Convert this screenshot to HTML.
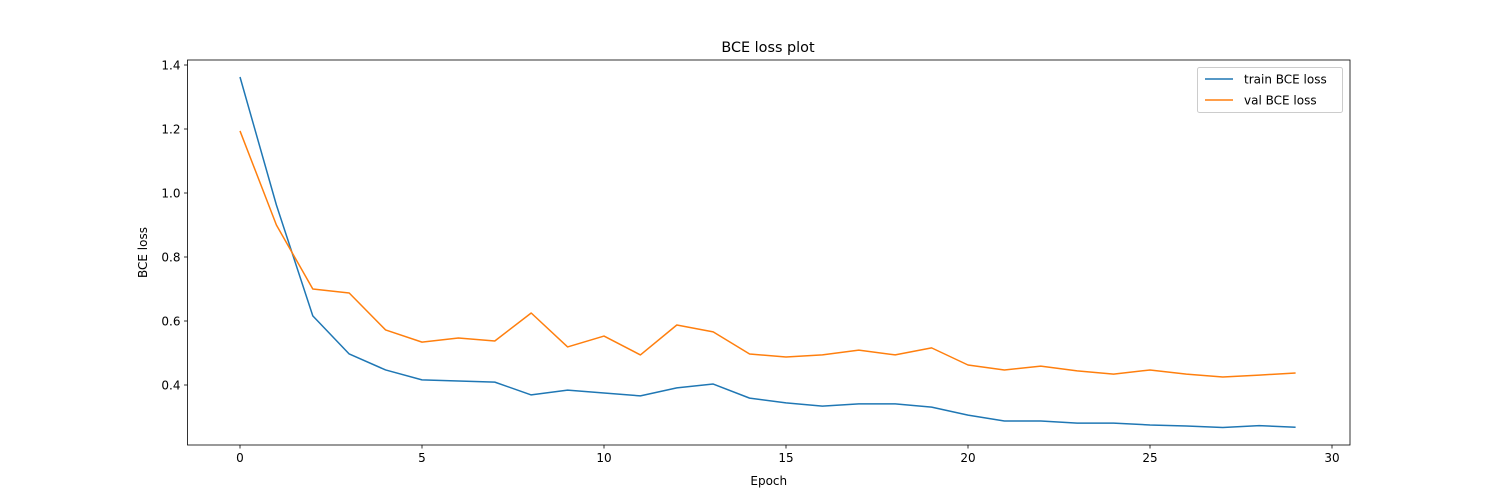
<!DOCTYPE html>
<html><head><meta charset="utf-8"><style>
body{margin:0;background:#fff;}
svg{display:block;font-family:"DejaVu Sans","Liberation Sans",sans-serif;}
</style></head><body>
<svg id="chart" width="1500" height="500">
<rect width="1500" height="500" fill="#fff"/>
<text x="768" y="52" font-size="14.4" text-anchor="middle">BCE loss plot</text>
<g id="plot"></g>
<text x="768.75" y="485" font-size="12" text-anchor="middle">Epoch</text>
<text transform="translate(147,252.5) rotate(-90)" font-size="12" text-anchor="middle">BCE loss</text>
</svg>
<script>
const epochs=[0,1,2,3,4,5,6,7,8,9,10,11,12,13,14,15,16,17,18,19,20,21,22,23,24,25,26,27,28,29];
const trainLoss=[1.3625,0.9625,0.616,0.497,0.447,0.416,0.4125,0.409,0.369,0.384,0.375,0.366,0.391,0.403,0.359,0.344,0.334,0.341,0.341,0.331,0.306,0.2875,0.2875,0.281,0.281,0.275,0.272,0.267,0.273,0.268];
const valLoss=[1.194,0.9,0.7,0.6875,0.572,0.534,0.547,0.5375,0.625,0.519,0.553,0.494,0.5875,0.566,0.497,0.4875,0.494,0.509,0.494,0.516,0.4625,0.447,0.459,0.444,0.434,0.447,0.434,0.425,0.431,0.4375];
const xTicks=[0,5,10,15,20,25,30];
const yTicks=[0.4,0.6,0.8,1.0,1.2,1.4];
const yTickLabels=["0.4","0.6","0.8","1.0","1.2","1.4"];
const L=187.5,R=1350,T=60,B=445;
const xs=v=>240+(v)*36.4;
const ys=v=>65+(1.4-v)*320;
const NS="http://www.w3.org/2000/svg";
const g=document.getElementById('plot');
function mk(t,a){const e=document.createElementNS(NS,t);for(const k in a)e.setAttribute(k,a[k]);g.appendChild(e);return e;}
xTicks.forEach(t=>{
 const l=mk('line',{x1:xs(t),x2:xs(t),y1:B,y2:B+3.5,stroke:'#000','stroke-width':0.8});
 
 
 const tx=mk('text',{x:xs(t),y:B+17,'font-size':12,'text-anchor':'middle'});tx.textContent=t;
 
 
});
yTicks.forEach((t,i)=>{
 const l=mk('line',{x1:L-3.5,x2:L,y1:ys(t),y2:ys(t),stroke:'#000','stroke-width':0.8});
 
 
 const tx=mk('text',{x:L-7,y:ys(t)+4.5,'font-size':12,'text-anchor':'end'});tx.textContent=yTickLabels[i];
 
 
});
function series(vals,color,name){
 const p=mk('polyline',{points:vals.map((v,i)=>xs(epochs[i])+','+ys(v)).join(' '),fill:'none',stroke:color,'stroke-width':1.5,'stroke-linejoin':'round'});
 
 
}
series(trainLoss,'#1f77b4','train-loss-line');
series(valLoss,'#ff7f0e','val-loss-line');
const fr=mk('rect',{x:L,y:T,width:R-L,height:B-T,fill:'none',stroke:'#000','stroke-width':0.8});


const lg=mk('rect',{x:1197.5,y:67.5,width:145,height:45,fill:'#fff',stroke:'#ccc','stroke-width':1,rx:2});


[['train BCE loss','#1f77b4',79],['val BCE loss','#ff7f0e',100]].forEach(([n,c,y])=>{
 const l=mk('line',{x1:1205,x2:1233,y1:y,y2:y,stroke:c,'stroke-width':1.5});
 
 
 const t=mk('text',{x:1244,y:y+4.5,'font-size':12});t.textContent=n;
 
 
});
</script>
</body></html>
